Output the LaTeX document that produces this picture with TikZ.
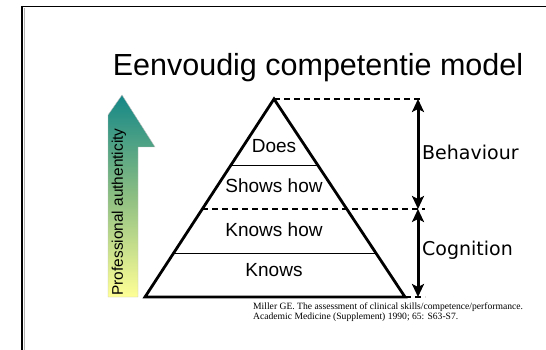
\documentclass[tikz,border=0pt]{standalone}
\usepackage{fontspec}
\setmainfont{Liberation Sans}
\newfontfamily\dejavu{DejaVu Sans}
\newfontfamily\timesf{Liberation Serif}
\usetikzlibrary{arrows.meta}
\definecolor{teal1}{RGB}{20,135,135}
\definecolor{mid1}{RGB}{140,190,130}
\definecolor{yel1}{RGB}{255,255,150}
\tikzset{
  pyr/.style={line width=2.8pt, line join=miter},
  divider/.style={line width=1pt},
  dashline/.style={dashed, dash pattern=on 6pt off 4pt, line width=1.7pt},
  dblarrow/.style={line width=3pt, {Stealth[length=13pt,width=12pt,inset=3pt]}-{Stealth[length=13pt,width=12pt,inset=3pt]}},
  lvl/.style={font=\fontsize{19}{21}\selectfont, inner sep=0pt},
  side/.style={font=\dejavu\fontsize{19}{21}\selectfont, anchor=west, inner sep=0pt}
}
\begin{document}
\begin{tikzpicture}[x=1pt,y=-1pt]
\useasboundingbox (0,0) rectangle (546,350);
% frame
\draw[line width=2.6pt] (22,6) -- (22,350);
\draw[line width=1pt, gray!60] (24.5,8) -- (24.5,350);
\draw[line width=1.1pt] (21,6.5) -- (546,6.5);
% title
\node[font=\fontsize{30.5}{34}\selectfont, inner sep=0pt] (title) at (318,68) {Eenvoudig competentie model};
% gradient arrow
\shade[top color=teal1, bottom color=yel1, middle color=mid1, draw=gray!50, line width=0.4pt]
  (108,297) -- (108,115) -- (122,95) -- (155,147) -- (138,147) -- (138,297) -- cycle;
\node[rotate=90, font=\fontsize{15.4}{17}\selectfont, inner sep=0pt] (auth) at (119,212) {Professional authenticity};
% pyramid
\coordinate (A) at (274,99);
\coordinate (BL) at (145,297);
\coordinate (BR) at (405,297);
\coordinate (d1l) at (231,165); \coordinate (d1r) at (317,165);
\coordinate (d2l) at (202,209); \coordinate (d2r) at (425,209);
\coordinate (d3l) at (173,253); \coordinate (d3r) at (375,253);
\coordinate (topr) at (422,99);
\coordinate (botr) at (425,297);
\draw[divider] (d1l) -- (d1r);
\draw[divider] (d3l) -- (d3r);
\draw[dashline] (d2l) -- (d2r);
\draw[dashline] (A) -- (topr);
\draw[dashline] (BR) -- (botr);
\draw[pyr] (A) -- (BL) -- (BR) -- cycle;
\node[lvl] (does) at (274,146) {Does};
\node[lvl] (shows) at (274,186) {Shows how};
\node[lvl] (knowshow) at (274,230) {Knows how};
\node[lvl] (knows) at (274,270) {Knows};
% arrows
\coordinate (a1) at (418,99);
\coordinate (a2) at (418,209);
\coordinate (a3) at (418,297);
\draw[dblarrow] (a1) -- (a2);
\draw[dblarrow] (a2) -- (a3);
\node[side] (beh) at (422,152) {Behaviour};
\node[side] (cog) at (422,250) {Cognition};
% citation
\node[font=\timesf\fontsize{9.6}{9.6}\selectfont, anchor=north west, align=left, inner sep=0pt] (cite) at (253,303)
  {Miller GE. The assessment of clinical skills/competence/performance.\\Academic Medicine (Supplement) 1990; 65: S63-S7.};
\end{tikzpicture}
\end{document}
